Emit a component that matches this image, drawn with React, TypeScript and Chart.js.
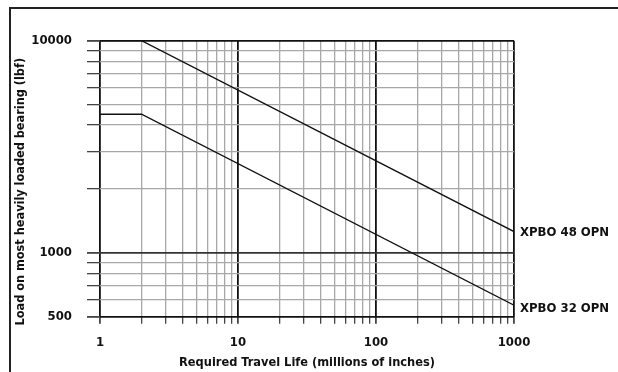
import React, { useEffect, useRef } from "react";
import { Chart, registerables } from "chart.js";

Chart.register(...registerables);

const lifeMillionsIn = [1, 2, 1000];
const loadXPBO48 = [10000, 10000, 1260];
const loadXPBO32 = [4500, 4500, 567];
const seriesNames = ["XPBO 48 OPN", "XPBO 32 OPN"];
const xTickValues = [1, 2, 3, 4, 5, 6, 7, 8, 9, 10, 20, 30, 40, 50, 60, 70, 80, 90, 100, 200, 300, 400, 500, 600, 700, 800, 900, 1000];
const yTickValues = [500, 600, 700, 800, 900, 1000, 2000, 3000, 4000, 5000, 6000, 7000, 8000, 9000, 10000];
const xLabeled = [1, 10, 100, 1000];
const yLabeled = [500, 1000, 10000];
const xTitle = "Required Travel Life (millions of inches)";
const yTitle = "Load on most heavily loaded bearing (lbf)";

const FONT = "'DejaVu Sans Condensed', 'Liberation Sans Narrow', sans-serif";
const majorX = [1, 10, 100, 1000];
const majorY = [500, 1000, 10000];

const extraText = {
  id: "extraText",
  afterDatasetsDraw(chart: any) {
    const ctx = chart.ctx;
    const xs = chart.scales.x;
    const ys = chart.scales.y;
    const offsets = [1.5, 4];
    ctx.save();
    ctx.font = `bold 13px ${FONT}`;
    ctx.fillStyle = "#111";
    ctx.textAlign = "left";
    ctx.textBaseline = "middle";
    chart.data.datasets.forEach((ds: any, i: number) => {
      const last = ds.data[ds.data.length - 1];
      const px = xs.getPixelForValue(last.x);
      const py = ys.getPixelForValue(last.y);
      ctx.fillText(ds.label, px + 6, py + offsets[i]);
    });
    // y axis title
    ctx.translate(21, (chart.chartArea.top + chart.chartArea.bottom) / 2 + 13);
    ctx.rotate(-Math.PI / 2);
    ctx.textAlign = "center";
    ctx.font = `bold 12.6px ${FONT}`;
    ctx.fillText(yTitle, 0, 0);
    ctx.restore();
  },
};

export default function App() {
  const ref = useRef<HTMLCanvasElement>(null);
  useEffect(() => {
    if (!ref.current) return;
    const mk = (vals: number[]) => lifeMillionsIn.map((x, i) => ({ x, y: vals[i] }));
    const chart = new Chart(ref.current, {
      type: "line",
      data: {
        datasets: [
          { label: seriesNames[0], data: mk(loadXPBO48), borderColor: "#111", borderWidth: 1.3, pointRadius: 0, fill: false, tension: 0 },
          { label: seriesNames[1], data: mk(loadXPBO32), borderColor: "#111", borderWidth: 1.3, pointRadius: 0, fill: false, tension: 0 },
        ],
      },
      plugins: [extraText],
      options: {
        animation: false,
        responsive: true,
        maintainAspectRatio: false,
        layout: { padding: { top: 40.7, right: 104, left: 0, bottom: 0 } },
        plugins: { legend: { display: false }, tooltip: { enabled: false } },
        scales: {
          x: {
            type: "logarithmic",
            min: 1,
            max: 1000,
            afterBuildTicks: (s: any) => { s.ticks = xTickValues.map((v) => ({ value: v })); },
            afterFit: (s: any) => { s.height = 55.3; },
            border: { display: false },
            grid: {
              color: (c: any) => (majorX.includes(c.tick?.value) ? "#111" : "#a8a8a8"),
              lineWidth: (c: any) => (majorX.includes(c.tick?.value) ? 1.8 : 1.3),
              tickColor: "#444",
              tickLength: 7,
              drawTicks: true,
            },
            ticks: {
              autoSkip: false,
              maxRotation: 0,
              padding: 11,
              color: "#111",
              font: { family: FONT, size: 13, weight: "bold" },
              callback: (v: any) => (xLabeled.includes(Number(v)) ? String(v) : ""),
            },
            title: {
              display: true,
              text: xTitle,
              color: "#111",
              font: { family: FONT, size: 12.7, weight: "bold" },
              padding: { top: 0, bottom: 2 },
            },
          },
          y: {
            type: "logarithmic",
            min: 500,
            max: 10000,
            afterBuildTicks: (s: any) => { s.ticks = yTickValues.map((v) => ({ value: v })); },
            afterFit: (s: any) => { s.width = 100; },
            border: { display: false },
            grid: {
              color: (c: any) => (majorY.includes(c.tick?.value) ? (c.tick?.value === 1000 ? "#333" : "#111") : "#a8a8a8"),
              lineWidth: (c: any) => (majorY.includes(c.tick?.value) ? 1.8 : 1.3),
              tickColor: "#444",
              tickLength: 13,
              drawTicks: true,
            },
            ticks: {
              autoSkip: false,
              padding: 15,
              color: "#111",
              font: { family: FONT, size: 13, weight: "bold" },
              callback: (v: any) => (yLabeled.includes(Number(v)) ? String(v) : ""),
            },
            title: { display: false },
          },
        },
      },
    } as any);
    return () => chart.destroy();
  }, []);

  return (
    <div style={{ position: "absolute", left: 0, top: 0, width: 618, height: 372, overflow: "hidden", background: "#fff" }}>
      <div style={{ position: "absolute", left: 9, top: 7, width: 700, height: 500, border: "2px solid #222", boxSizing: "border-box" }} />
      <div style={{ position: "absolute", left: 0, top: 0, width: 618, height: 372 }}>
        <canvas ref={ref} />
      </div>
    </div>
  );
}
